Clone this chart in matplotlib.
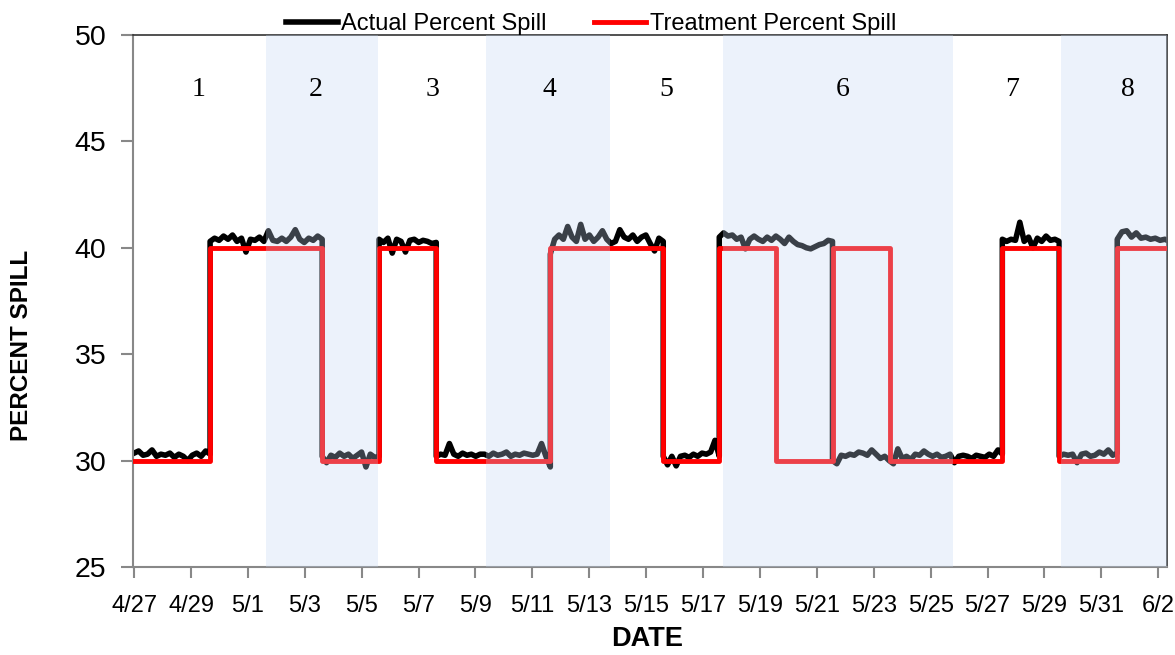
import numpy as np
import matplotlib
matplotlib.use('Agg')
from matplotlib import pyplot as plt

plt.rcParams['font.family'] = ['Liberation Sans', 'DejaVu Sans']

# days since 4/27
tick_days = list(range(0, 37, 2))
tick_labels = ['4/27', '4/29', '5/1', '5/3', '5/5', '5/7', '5/9', '5/11', '5/13', '5/15',
               '5/17', '5/19', '5/21', '5/23', '5/25', '5/27', '5/29', '5/31', '6/2']

# treatment percent spill: step changes (day, new level)
treat_days = [0, 2.67, 6.61, 8.61, 10.62, 14.63, 18.6, 20.57, 22.57, 24.58, 26.58, 30.52, 32.52, 34.56, 36.4]
treat_levels = [30, 40, 30, 40, 30, 40, 30, 40, 30, 40, 30, 40, 30, 40, 40]

# actual percent spill, read segment by segment
actual_edges = [0, 2.67, 6.61, 8.61, 10.62, 14.63, 18.6, 20.57, 24.55, 30.52, 32.52, 34.56, 36.4]
actual_segs = [
    [30.35, 30.45, 30.25, 30.3, 30.5, 30.2, 30.3, 30.25, 30.35, 30.15, 30.3, 30.2, 30.0, 30.25, 30.35, 30.2, 30.45, 30.3],
    [40.3, 40.45, 40.35, 40.55, 40.4, 40.6, 40.3, 40.45, 39.8, 40.4, 40.35, 40.5, 40.3, 40.8, 40.35, 40.3, 40.45, 40.3,
     40.5, 40.85, 40.4, 40.25, 40.45, 40.35, 40.55, 40.4],
    [30.2, 29.9, 30.25, 30.15, 30.35, 30.2, 30.3, 30.1, 30.25, 30.4, 29.7, 30.3, 30.15, 30.2],
    [40.4, 40.25, 40.45, 39.75, 40.4, 40.3, 39.8, 40.35, 40.4, 40.25, 40.35, 40.3, 40.2, 40.25],
    [30.2, 30.3, 30.25, 30.8, 30.3, 30.2, 30.35, 30.25, 30.3, 30.2, 30.3, 30.3, 30.2, 30.35, 30.25, 30.3, 30.4, 30.2,
     30.3, 30.25, 30.35, 30.3, 30.25, 30.3, 30.8, 30.2, 29.7],
    [39.7, 40.4, 40.6, 40.4, 41.0, 40.5, 40.3, 41.1, 40.4, 40.6, 40.3, 40.5, 40.8, 40.4, 40.2, 40.3, 40.85, 40.5, 40.4,
     40.6, 40.3, 40.5, 40.6, 40.2, 39.85, 40.45, 40.3],
    [30.2, 29.8, 30.2, 29.75, 30.2, 30.25, 30.15, 30.3, 30.2, 30.35, 30.3, 30.4, 30.95, 30.2],
    [40.5, 40.7, 40.55, 40.6, 40.4, 40.5, 39.95, 40.4, 40.55, 40.4, 40.3, 40.5, 40.35, 40.55, 40.4, 40.2, 40.5, 40.3,
     40.15, 40.1, 40.0, 39.95, 40.05, 40.15, 40.2, 40.35, 40.3],
    [30.0, 29.85, 30.25, 30.2, 30.3, 30.25, 30.4, 30.35, 30.25, 30.5, 30.3, 30.1, 30.2, 30.0, 29.85, 30.55, 30.1, 30.2,
     30.05, 30.3, 30.25, 30.45, 30.3, 30.2, 30.3, 30.15, 30.2, 30.3, 29.9, 30.2, 30.25, 30.2, 30.1, 30.25, 30.2, 30.15,
     30.3, 30.2, 30.5, 30.3],
    [40.4, 40.3, 40.4, 40.35, 41.2, 40.3, 40.5, 40.0, 40.45, 40.3, 40.55, 40.35, 40.4, 40.3],
    [30.2, 30.3, 30.25, 30.3, 29.9, 30.3, 30.35, 30.2, 30.25, 30.4, 30.3, 30.5, 30.25, 30.35],
    [40.4, 40.75, 40.8, 40.5, 40.7, 40.45, 40.5, 40.4, 40.45, 40.35, 40.4, 40.3],
]

# shaded treatment periods and period labels
band_start = [4.64, 12.38, 20.71, 32.6]
band_end = [8.58, 16.74, 28.8, 36.4]
period_names = ['1', '2', '3', '4', '5', '6', '7', '8']
period_centers = [2.25, 6.37, 10.48, 14.6, 18.7, 24.9, 30.85, 34.95]

fig = plt.figure(figsize=(11.75, 6.55), dpi=100)
ax = fig.add_axes([0.1132, 0.1344, 0.88, 0.8122])

act_x = []
act_y = []
for i, seg in enumerate(actual_segs):
    act_x.extend(np.linspace(actual_edges[i], actual_edges[i + 1], len(seg)))
    act_y.extend(seg)
ax.plot(act_x, act_y, color='black', lw=4, label='Actual Percent Spill', zorder=2,
        solid_joinstyle='round')
ax.step(treat_days, treat_levels, where='post', color='#ff0000', lw=3.5,
        label='Treatment Percent Spill', zorder=3)

for s, e in zip(band_start, band_end):
    ax.axvspan(s, e, color='#c3d7f2', alpha=0.3, lw=0, zorder=4)

for name, c in zip(period_names, period_centers):
    ax.text(c, 47.45, name, ha='center', va='center', fontsize=20,
            family=['Liberation Serif', 'DejaVu Serif'], zorder=5)

ax.set_xlim(-0.04, 36.31)
ax.set_ylim(25, 50)
ax.set_xticks(tick_days)
ax.set_xticklabels(tick_labels, fontsize=17)
ax.set_yticks([25, 30, 35, 40, 45, 50])
ax.tick_params(axis='y', labelsize=20.5, length=9, width=1.5, color='#888888', pad=10)
ax.tick_params(axis='x', length=8, width=1.5, color='#888888', pad=12)
for side in ['left', 'bottom']:
    ax.spines[side].set_color('#888888')
    ax.spines[side].set_linewidth(1.5)
for side in ['top', 'right']:
    ax.spines[side].set_color('#333333')
    ax.spines[side].set_linewidth(1.2)

fig.text(0.0187, 0.472, 'PERCENT SPILL', rotation=90, ha='center', va='center',
         fontsize=17.5, fontweight='bold')
fig.text(0.551, 0.024, 'DATE', ha='center', va='center', fontsize=19.5, fontweight='bold')

fig.legend(loc='upper center', bbox_to_anchor=(0.503, 1.012), ncol=2, frameon=False,
           fontsize=17, handlelength=2.2, handletextpad=0.15, columnspacing=2.0)

fig.savefig('out.png', dpi=100)
